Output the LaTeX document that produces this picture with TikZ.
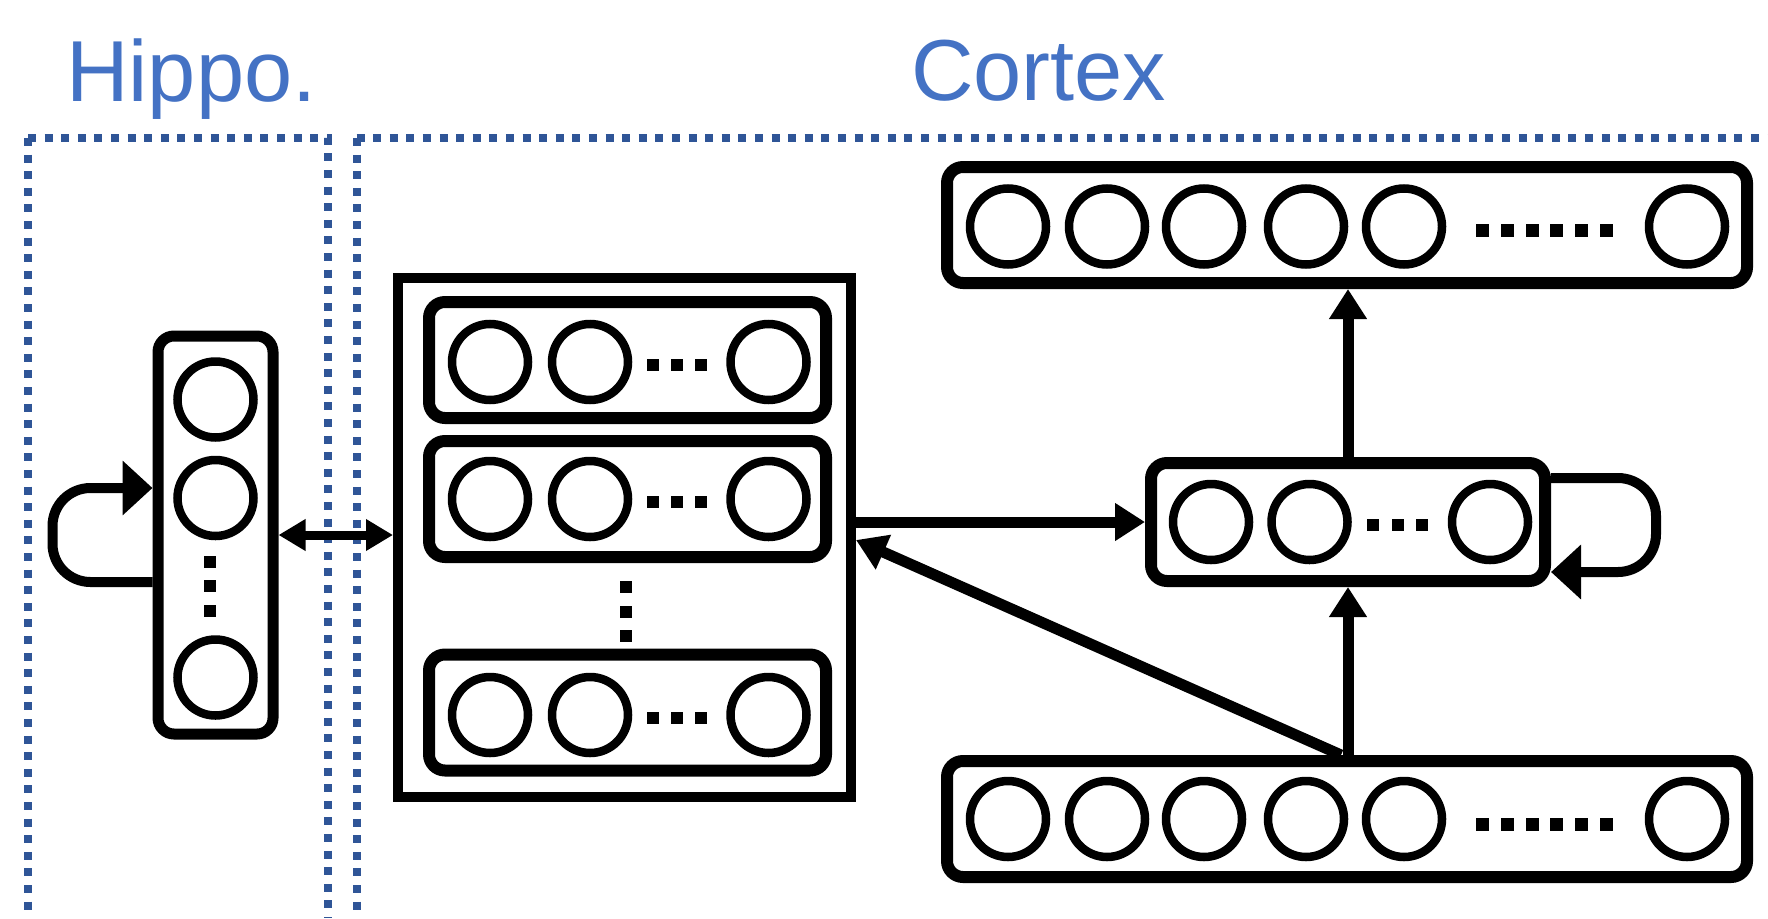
\documentclass[tikz,border=0pt]{standalone}
\usepackage{fontspec}
\setmainfont{Liberation Sans}
\usetikzlibrary{arrows.meta,calc}
\definecolor{txtblue}{HTML}{4472C4}
\definecolor{dotblue}{HTML}{2F5597}
\begin{document}
\begin{tikzpicture}[x=1pt,y=-1pt,
  region/.style={draw=dotblue,line width=8pt,dash pattern=on 8pt off 8.6pt},
  neuron/.style={circle,draw,line width=8.5pt,minimum size=76pt,inner sep=0pt},
  layer/.style={draw,rounded corners=16pt,line width=12pt,inner sep=0pt},
  frame/.style={draw,line width=10pt,inner sep=0pt},
  conn/.style={line width=11pt,-{Triangle[length=30pt,width=36pt]}},
  selfloop/.style={line width=10pt,rounded corners=38pt,-{Triangle[length=30pt,width=53pt]}},
  title/.style={text=txtblue,font=\fontsize{86.6}{100}\selectfont,inner sep=0pt,anchor=base west}
]
\useasboundingbox (0,0) rectangle (1768,918);

% region borders
\draw[region] (28,138) -- (28,918);
\draw[region] (28,138) -- (328,138) -- (328,918);
\draw[region] (356.5,138) -- (356.5,918);
\draw[region] (356.5,138) -- (1768,138);

% titles
\node[title] (hippolabel) at (66,101) {Hippo.};
\node[title] (cortexlabel) at (911,100) {Cortex};

% boxes
\node[layer,line width=11pt,minimum width=115pt,minimum height=398pt] (hippo) at (215.5,535) {};
\node[frame,minimum width=453pt,minimum height=519pt] (cache) at (624.5,537.5) {};
\node[layer,minimum width=397pt,minimum height=116pt] (row1) at (627.5,360) {};
\node[layer,minimum width=397pt,minimum height=116pt] (row2) at (627.5,499) {};
\node[layer,minimum width=397pt,minimum height=116pt] (row3) at (627.5,712.5) {};
\node[layer,minimum width=800pt,minimum height=116pt] (top) at (1347,225) {};
\node[layer,minimum width=800pt,minimum height=116pt] (bot) at (1347,819) {};
\node[layer,minimum width=394pt,minimum height=118pt] (mid) at (1348,522) {};

% neurons
\foreach \y [count=\i] in {399.5,498,677.5}
  \node[neuron] (h\i) at (215.5,\y) {};
\foreach \r/\y in {1/362,2/499,3/715}
  \foreach \x [count=\i] in {490,590,768.5}
    \node[neuron] (r\r-\i) at (\x,\y) {};
\foreach \x [count=\i] in {1008,1107,1204,1306,1404,1687} {
  \node[neuron] (t\i) at (\x,226.5) {};
  \node[neuron] (b\i) at (\x,819) {};
}
\foreach \x [count=\i] in {1211,1309.5,1490}
  \node[neuron] (m\i) at (\x,522) {};

% ellipsis dots
\foreach \y in {364.5,501.5,717.5}
  \foreach \x in {652.5,677,701}
    \fill ({\x-6},{\y-6}) rectangle ({\x+6},{\y+6});
\foreach \k in {0,...,5} {
  \fill ({1482.6+24.7*\k-6.5},{230-6.5}) rectangle ({1482.6+24.7*\k+6.5},{230+6.5});
  \fill ({1482.6+24.7*\k-6.5},{824.5-6.5}) rectangle ({1482.6+24.7*\k+6.5},{824.5+6.5});
}
\foreach \x in {1373,1397.6,1422}
  \fill ({\x-6},{525-6}) rectangle ({\x+6},{525+6});
\foreach \y in {562,586,611}
  \fill ({210-6},{\y-6}) rectangle ({210+6},{\y+6});
\foreach \y in {587,611.5,635.5}
  \fill ({626-6},{\y-6}) rectangle ({626+6},{\y+6});

% connectors
\draw[line width=9pt,{Triangle[length=27pt,width=30pt]}-{Triangle[length=27pt,width=30pt]}] (hippo.east) -- (hippo.east -| cache.west);
\draw[conn] (mid.west -| cache.east) -- (mid.west);
\draw[conn] (bot.north -| mid.south) -- (mid.south);
\draw[conn] (mid.north) -- (mid.north |- top.south);
\draw[conn] ($(bot.north)+(-6,0)$) -- ($(cache.east)+(0,2.5)$);
\draw[selfloop] ($(hippo.west)+(0,47)$) -- ++(-100,0) -- ++(0,-94) -- ($(hippo.west)+(0,-47)$);
\draw[selfloop] ($(mid.east)+(0,-44)$) -- ++(105,0) -- ++(0,94) -- ($(mid.east)+(0,50)$);
\end{tikzpicture}
\end{document}
